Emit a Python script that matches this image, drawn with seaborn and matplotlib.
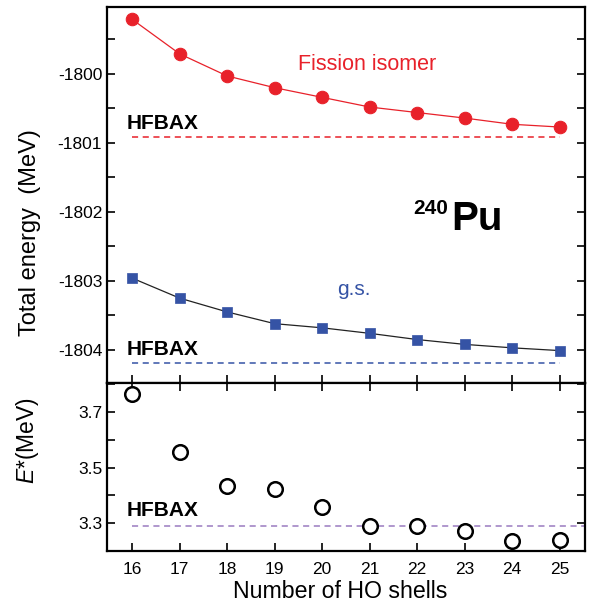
import numpy as np
import pandas as pd
import seaborn as sns
import matplotlib
matplotlib.use("Agg")
import matplotlib.pyplot as plt
from matplotlib.ticker import MultipleLocator

shells = [16, 17, 18, 19, 20, 21, 22, 23, 24, 25]
e_fission = [-1799.21, -1799.71, -1800.03, -1800.20, -1800.34, -1800.48, -1800.56, -1800.64, -1800.73, -1800.77]
e_gs = [-1802.96, -1803.25, -1803.45, -1803.62, -1803.68, -1803.76, -1803.85, -1803.92, -1803.97, -1804.01]
e_star = [3.764, 3.557, 3.434, 3.422, 3.358, 3.289, 3.290, 3.272, 3.235, 3.241]
hfbax_fission = -1800.91
hfbax_gs = -1804.19
hfbax_estar = 3.290

sns.set_theme(style="white")
plt.rcParams['font.family'] = ['Liberation Sans', 'DejaVu Sans']
plt.rcParams['mathtext.fontset'] = 'custom'
plt.rcParams['mathtext.it'] = 'Liberation Sans:italic'
plt.rcParams['mathtext.rm'] = 'Liberation Sans'
plt.rcParams['axes.unicode_minus'] = False
plt.rcParams['text.color'] = 'black'
plt.rcParams['axes.labelcolor'] = 'black'
plt.rcParams['xtick.color'] = 'black'
plt.rcParams['ytick.color'] = 'black'

df = pd.DataFrame({"shells": shells, "fi": e_fission, "gs": e_gs, "es": e_star})

fig = plt.figure(figsize=(5.98, 6.07), dpi=100)
ax1 = fig.add_axes([0.179, 0.369, 0.799, 0.6195])
ax2 = fig.add_axes([0.179, 0.0923, 0.799, 0.2768])

red = "#e8212a"
blue = "#3553a5"
purple = "#9a7bc0"

# top panel
sns.lineplot(data=df, x="shells", y="fi", ax=ax1, color=red, lw=0.9, marker="o",
             markersize=9, markeredgecolor=red, markerfacecolor=red)
sns.lineplot(data=df, x="shells", y="gs", ax=ax1, color="#222222", lw=0.9)
sns.scatterplot(data=df, x="shells", y="gs", ax=ax1, color=blue, marker="s", s=60,
                edgecolor=blue, linewidth=0.5, zorder=3)
ax1.plot([shells[0], shells[-1]], [hfbax_fission] * 2, ls=(0, (4, 3)), color=red, lw=1.1)
ax1.plot([shells[0], shells[-1]], [hfbax_gs] * 2, ls=(0, (4, 3)), color=blue, lw=1.1)

ax1.set_xlim(15.47, 25.53)
ax1.set_ylim(-1804.48, -1799.03)
ax1.yaxis.set_major_locator(MultipleLocator(1))
ax1.yaxis.set_minor_locator(MultipleLocator(0.5))
ax1.xaxis.set_major_locator(MultipleLocator(1))
ax1.tick_params(axis="both", which="both", direction="in", length=6, width=1.2,
                left=True, right=True, bottom=True, top=False, labelbottom=False,
                labelsize=12.5, colors="black")
ax1.set_xlabel("")
ax1.set_ylabel("Total energy  (MeV)", fontsize=17)
ax1.yaxis.set_label_coords(-0.138, 0.40)

ax1.text(15.88, hfbax_fission + 0.06, "HFBAX", fontsize=15, fontweight="bold", va="bottom", ha="left")
ax1.text(15.88, hfbax_gs + 0.06, "HFBAX", fontsize=15, fontweight="bold", va="bottom", ha="left")
ax1.text(20.95, -1799.86, "Fission isomer", color=red, fontsize=15.5, ha="center", va="center")
ax1.text(20.67, -1803.12, "g.s.", color=blue, fontsize=15, ha="center", va="center")
ax1.text(22.72, -1802.26, "Pu", fontsize=29, fontweight="bold", ha="left", va="baseline")
ax1.text(22.66, -1802.03, "240", fontsize=15, fontweight="bold", ha="right", va="baseline")

# bottom panel
sns.scatterplot(data=df, x="shells", y="es", ax=ax2, marker="o", s=110,
                facecolor="white", edgecolor="black", linewidth=1.8, zorder=3)
ax2.plot([shells[0], 25.53], [hfbax_estar] * 2, ls=(0, (4, 3)), color=purple, lw=1.1)
ax2.set_xlim(15.47, 25.53)
ax2.set_ylim(3.2, 3.805)
ax2.yaxis.set_minor_locator(MultipleLocator(0.1))
ax2.set_yticks([3.3, 3.5, 3.7])
ax2.set_yticklabels(["3.3", "3.5", "3.7"])
ax2.tick_params(axis="both", which="both", direction="in", length=6, width=1.2,
                left=True, right=True, bottom=True, top=True,
                labelsize=12.5, colors="black")
ax2.tick_params(axis="x", pad=8)
ax2.set_xticks(shells)
ax2.set_xticklabels([str(s) for s in shells])
ax2.set_xlabel("Number of HO shells", fontsize=16.7, labelpad=4)
ax2.xaxis.set_label_coords(0.487, -0.17)
ax2.set_ylabel(r"$E$*(MeV)", fontsize=16.5)
ax2.yaxis.set_label_coords(-0.138, 0.66)
ax2.text(15.88, hfbax_estar + 0.02, "HFBAX", fontsize=15, fontweight="bold", va="bottom", ha="left")

for ax in (ax1, ax2):
    for sp in ax.spines.values():
        sp.set_linewidth(1.6)
        sp.set_color("black")

fig.savefig("out.png", dpi=100)
